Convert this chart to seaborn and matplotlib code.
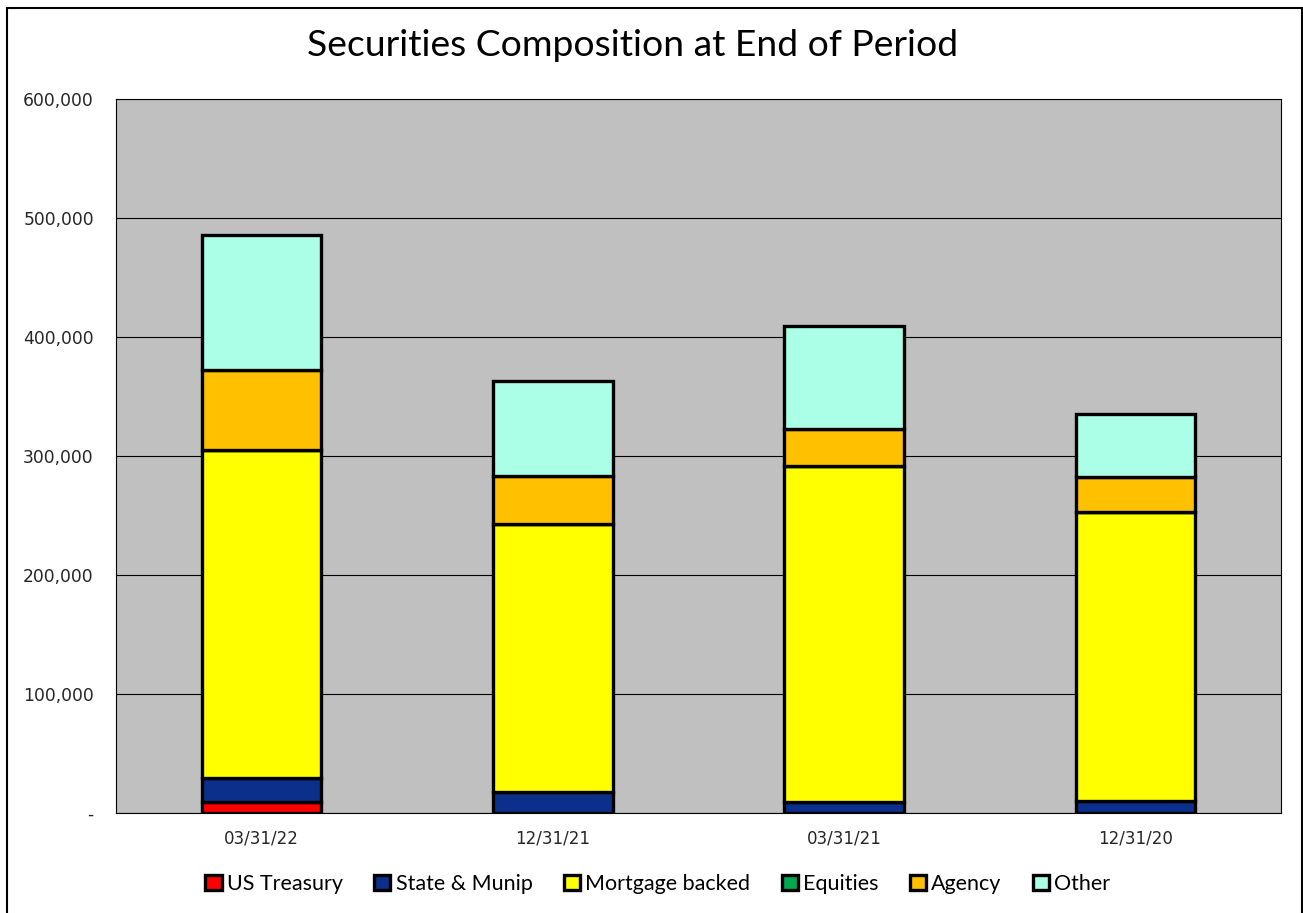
import numpy as np
import pandas as pd
import matplotlib
matplotlib.use("Agg")
import matplotlib.pyplot as plt
import seaborn as sns
from matplotlib.patches import Patch, Rectangle
from matplotlib.ticker import FuncFormatter

# chart data
periods = ["03/31/22", "12/31/21", "03/31/21", "12/31/20"]
us_treasury = [9000, 0, 0, 0]
state_munip = [20000, 17500, 9000, 10000]
mortgage_backed = [276000, 225500, 283000, 243000]
equities = [0, 0, 0, 0]
agency = [67000, 40000, 31000, 29000]
other = [113500, 80000, 86000, 53000]

series_names = ["US Treasury", "State & Munip", "Mortgage backed", "Equities", "Agency", "Other"]
series_values = [us_treasury, state_munip, mortgage_backed, equities, agency, other]
series_colors = ["#FF0000", "#0D2F8C", "#FFFF00", "#00A850", "#FFC000", "#AAFFE6"]

sns.set_style("white")
plt.rcParams["font.family"] = ["DejaVu Sans"]

fig = plt.figure(figsize=(13.03, 9.13), dpi=100)
ax = fig.add_axes([116 / 1303, 100 / 913, (1281 - 116) / 1303, (813 - 99) / 913])
ax.set_facecolor("#C0C0C0")

# stacked bars, one barplot per series
bottom = np.zeros(len(periods))
for name, vals, col in zip(series_names, series_values, series_colors):
    df = pd.DataFrame({"period": periods, "value": vals})
    sns.barplot(
        data=df, x="period", y="value", order=periods, ax=ax,
        color=col, bottom=bottom, width=0.41, edgecolor="black",
        linewidth=2.4, saturation=1, errorbar=None,
    )
    bottom = bottom + np.array(vals)

ax.set_ylim(0, 600000)
ax.set_xlim(-0.5, 3.5)
ax.set_yticks(np.arange(0, 600001, 100000))
ax.yaxis.set_major_formatter(FuncFormatter(lambda v, p: "-" if v == 0 else f"{int(v):,}"))
ax.grid(axis="y", color="black", linewidth=0.8)
ax.set_axisbelow(True)
ax.tick_params(axis="y", length=0, labelsize=12.3, pad=16)
ax.tick_params(axis="x", length=0, labelsize=12, pad=12)
ax.set_xlabel("")
ax.set_ylabel("")
for s in ax.spines.values():
    s.set_color("black")
    s.set_linewidth(0.8)

fig.text(633 / 1303, 1 - 45 / 913, "Securities Composition at End of Period",
         ha="center", va="center", fontsize=26.8, color="black",
         family=["Lato", "DejaVu Sans"])

handles = [Patch(facecolor=c, edgecolor="black", linewidth=2.4) for c in series_colors]
leg = fig.legend(handles, series_names, loc="center", bbox_to_anchor=(658 / 1303, 1 - 884 / 913),
                 ncol=6, frameon=False, handlelength=0.75, handleheight=0.75,
                 handletextpad=0.25, columnspacing=1.45,
                 prop={"family": ["Lato", "DejaVu Sans"], "size": 15.5})
for t in leg.get_texts():
    t.set_color("black")

# outer chart border
fig.patches.append(Rectangle((7 / 1303, -0.05), (1302 - 7) / 1303, 1.05 - 8 / 913,
                             transform=fig.transFigure, fill=False,
                             edgecolor="black", linewidth=1.5))

fig.savefig("out.png", dpi=100)
